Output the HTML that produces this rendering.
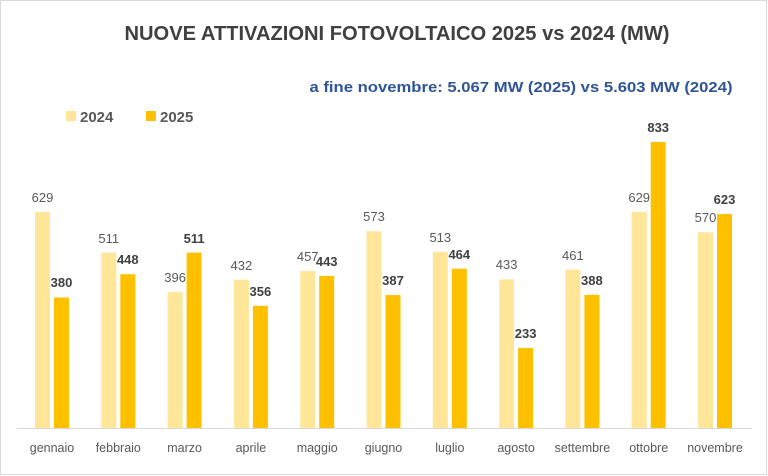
<!DOCTYPE html>
<html><head><meta charset="utf-8"><style>
html,body{margin:0;padding:0;background:#fff}
svg{display:block}
.t4{font-family:"Liberation Sans",sans-serif;font-size:13px;fill:#595959;text-anchor:middle}
.t5{font-family:"Liberation Sans",sans-serif;font-size:13px;font-weight:bold;fill:#404040;text-anchor:middle}
.c{font-family:"Liberation Sans",sans-serif;font-size:12.5px;fill:#595959;text-anchor:middle}
</style></head><body>
<svg width="768" height="476" viewBox="0 0 768 476" xmlns="http://www.w3.org/2000/svg">
<rect x="0.5" y="0.5" width="766" height="474" fill="#fff" stroke="#d9d9d9"/>
<text x="397" y="40" textLength="545" lengthAdjust="spacingAndGlyphs" font-family="Liberation Sans,sans-serif" font-size="20" font-weight="bold" fill="#404040" text-anchor="middle">NUOVE ATTIVAZIONI FOTOVOLTAICO 2025 vs 2024 (MW)</text>
<text x="521" y="92" textLength="423" lengthAdjust="spacingAndGlyphs" font-family="Liberation Sans,sans-serif" font-size="15" font-weight="bold" fill="#2F5597" text-anchor="middle">a fine novembre: 5.067 MW (2025) vs 5.603 MW (2024)</text>
<rect x="66" y="111" width="10" height="10" fill="#FFE699"/>
<text x="80" y="122" font-family="Liberation Sans,sans-serif" font-size="15" font-weight="bold" fill="#595959">2024</text>
<rect x="146" y="111" width="10" height="10" fill="#FFC000"/>
<text x="160" y="122" font-family="Liberation Sans,sans-serif" font-size="15" font-weight="bold" fill="#595959">2025</text>
<line x1="17" y1="428.5" x2="752" y2="428.5" stroke="#d9d9d9"/>
<g fill="#FFE699">
<rect x="35" y="212" width="15" height="216"/>
<rect x="101.3" y="252.6" width="15" height="175.4"/>
<rect x="167.6" y="292.1" width="15" height="135.9"/>
<rect x="233.9" y="279.7" width="15" height="148.3"/>
<rect x="300.2" y="271.1" width="15" height="156.9"/>
<rect x="366.5" y="231.3" width="15" height="196.7"/>
<rect x="432.8" y="251.9" width="15" height="176.1"/>
<rect x="499.1" y="279.4" width="15" height="148.6"/>
<rect x="565.4" y="269.7" width="15" height="158.3"/>
<rect x="631.7" y="212" width="15" height="216"/>
<rect x="698" y="232.3" width="15" height="195.7"/>
</g>
<g fill="#FFC000">
<rect x="54" y="297.5" width="15" height="130.5"/>
<rect x="120.3" y="274.2" width="15" height="153.8"/>
<rect x="186.6" y="252.6" width="15" height="175.4"/>
<rect x="252.9" y="305.8" width="15" height="122.2"/>
<rect x="319.2" y="275.9" width="15" height="152.1"/>
<rect x="385.5" y="295.1" width="15" height="132.9"/>
<rect x="451.8" y="268.7" width="15" height="159.3"/>
<rect x="518.1" y="348" width="15" height="80"/>
<rect x="584.4" y="294.8" width="15" height="133.2"/>
<rect x="650.7" y="142" width="15" height="286"/>
<rect x="717" y="214.1" width="15" height="213.9"/>
</g>
<text class="t4" x="42.5" y="202">629</text>
<text class="t4" x="108.8" y="243">511</text>
<text class="t4" x="175.1" y="282">396</text>
<text class="t4" x="241.4" y="270">432</text>
<text class="t4" x="307.7" y="261">457</text>
<text class="t4" x="374" y="221">573</text>
<text class="t4" x="440.3" y="242">513</text>
<text class="t4" x="506.6" y="269">433</text>
<text class="t4" x="572.9" y="260">461</text>
<text class="t4" x="639.2" y="202">629</text>
<text class="t4" x="705.5" y="222">570</text>
<text class="t5" x="61.5" y="287">380</text>
<text class="t5" x="127.8" y="264">448</text>
<text class="t5" x="194.1" y="243">511</text>
<text class="t5" x="260.4" y="296">356</text>
<text class="t5" x="326.7" y="266">443</text>
<text class="t5" x="393" y="285">387</text>
<text class="t5" x="459.3" y="259">464</text>
<text class="t5" x="525.6" y="338">233</text>
<text class="t5" x="591.9" y="285">388</text>
<text class="t5" x="658.2" y="132">833</text>
<text class="t5" x="724.5" y="204">623</text>
<text class="c" x="52" y="452">gennaio</text>
<text class="c" x="118.3" y="452">febbraio</text>
<text class="c" x="184.6" y="452">marzo</text>
<text class="c" x="250.9" y="452">aprile</text>
<text class="c" x="317.2" y="452">maggio</text>
<text class="c" x="383.5" y="452">giugno</text>
<text class="c" x="449.8" y="452">luglio</text>
<text class="c" x="516.1" y="452">agosto</text>
<text class="c" x="582.4" y="452">settembre</text>
<text class="c" x="648.7" y="452">ottobre</text>
<text class="c" x="715" y="452">novembre</text>
</svg>
</body></html>
